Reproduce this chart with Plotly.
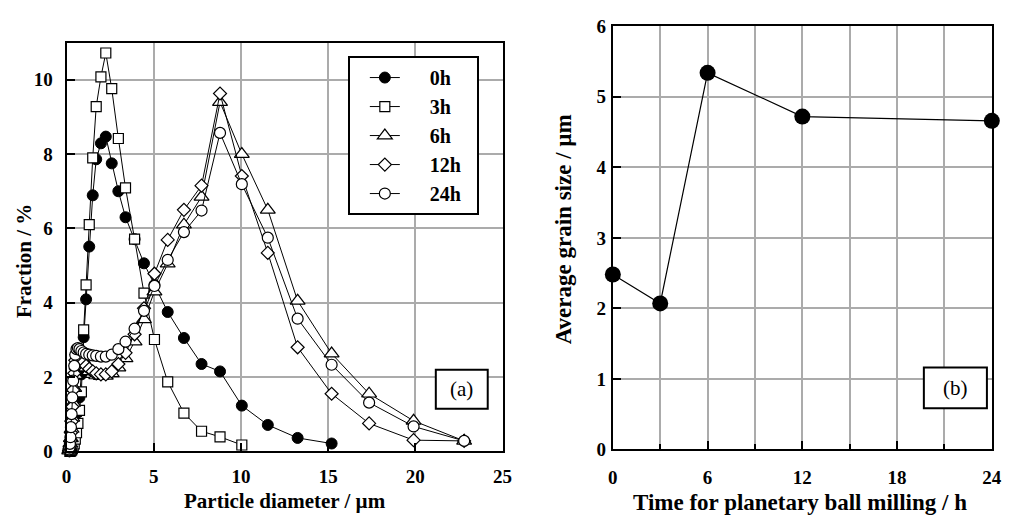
import plotly.graph_objects as go

FONT = "Liberation Serif"
W, H = 1011, 517

# ---------------- Panel (a): particle size distribution ----------------
diam_0h = [0.17, 0.19, 0.22, 0.25, 0.29, 0.33, 0.38, 0.44, 0.50, 0.57, 0.65, 0.74, 0.85, 0.98,
           1.12, 1.30, 1.50, 1.70, 1.97, 2.25, 2.59, 2.97, 3.38, 3.90, 4.44, 5.04, 5.80, 6.73,
           7.74, 8.80, 10.05, 11.54, 13.25, 15.20]
frac_0h = [0.00, 0.01, 0.02, 0.04, 0.07, 0.12, 0.20, 0.32, 0.48, 0.72, 1.05, 1.45, 2.07, 3.07,
           4.09, 5.51, 6.89, 7.86, 8.29, 8.47, 7.75, 7.00, 6.30, 5.71, 5.06, 4.48, 3.75, 3.05,
           2.35, 2.15, 1.23, 0.71, 0.36, 0.21]

diam_3h = [0.19, 0.22, 0.25, 0.29, 0.33, 0.38, 0.44, 0.50, 0.57, 0.65, 0.74, 0.85, 0.98, 1.12,
           1.30, 1.50, 1.70, 1.97, 2.25, 2.59, 2.97, 3.38, 3.90, 4.44, 5.04, 5.80, 6.73, 7.74,
           8.80, 10.05]
frac_3h = [0.00, 0.01, 0.02, 0.04, 0.07, 0.12, 0.20, 0.33, 0.50, 0.75, 1.10, 1.60, 3.27, 4.48,
           6.10, 7.90, 9.28, 10.08, 10.72, 9.76, 8.42, 7.09, 5.71, 4.26, 3.01, 1.87, 1.03, 0.54,
           0.39, 0.17]

diam_6h = [0.15, 0.17, 0.19, 0.22, 0.25, 0.29, 0.33, 0.38, 0.44, 0.50, 0.57, 0.65, 0.74, 0.85,
           0.98, 1.12, 1.30, 1.50, 1.70, 1.97, 2.25, 2.59, 2.97, 3.38, 3.90, 4.44, 5.04, 5.80,
           6.73, 7.74, 8.80, 10.05, 11.54, 13.25, 15.20, 17.35, 19.90, 22.80]
frac_6h = [0.02, 0.05, 0.10, 0.20, 0.35, 0.60, 0.90, 1.30, 1.70, 2.05, 2.30, 2.45, 2.50, 2.45,
           2.35, 2.25, 2.15, 2.08, 2.04, 2.02, 2.03, 2.10, 2.25, 2.50, 2.95, 3.55, 4.30, 5.05,
           6.10, 6.85, 9.40, 8.00, 6.50, 4.05, 2.63, 1.55, 0.82, 0.28]

diam_12h = diam_6h
frac_12h = [0.03, 0.07, 0.14, 0.28, 0.50, 0.80, 1.20, 1.65, 2.10, 2.45, 2.60, 2.62, 2.58, 2.50,
            2.40, 2.30, 2.22, 2.15, 2.10, 2.07, 2.07, 2.15, 2.35, 2.65, 3.15, 3.85, 4.78, 5.69,
            6.50, 7.15, 9.63, 7.41, 5.34, 2.80, 1.55, 0.75, 0.30, 0.28]

diam_24h = diam_6h
frac_24h = [0.05, 0.10, 0.20, 0.38, 0.65, 1.00, 1.45, 1.90, 2.30, 2.60, 2.75, 2.78, 2.75, 2.70,
            2.66, 2.62, 2.60, 2.58, 2.57, 2.55, 2.55, 2.60, 2.75, 2.95, 3.30, 3.78, 4.45, 5.15,
            5.90, 6.48, 8.57, 7.19, 5.75, 3.57, 2.33, 1.31, 0.67, 0.28]

series_names = ["0h", "3h", "6h", "12h", "24h"]

# ---------------- Panel (b): average grain size ----------------
mill_hours = [0, 3, 6, 12, 24]
grain_size = [2.48, 2.07, 5.34, 4.72, 4.66]

x_ticks_a = [0, 5, 10, 15, 20, 25]
y_ticks_a = [0, 2, 4, 6, 8, 10]
x_ticks_b = [0, 6, 12, 18, 24]
y_ticks_b = [0, 1, 2, 3, 4, 5, 6]

NBSP = "\u00a0"

fig = go.Figure()

styles = [
    dict(symbol="circle", size=11, color="black", line=dict(color="black", width=1)),
    dict(symbol="square", size=10, color="white", line=dict(color="black", width=1.2)),
    dict(symbol="triangle-up", size=13, color="white", line=dict(color="black", width=1.2)),
    dict(symbol="diamond", size=10, color="white", line=dict(color="black", width=1.2)),
    dict(symbol="circle", size=11, color="white", line=dict(color="black", width=1.2)),
]
data_a = [(diam_0h, frac_0h), (diam_3h, frac_3h), (diam_6h, frac_6h),
          (diam_12h, frac_12h), (diam_24h, frac_24h)]

for name, (xs, ys), mk in zip(series_names, data_a, styles):
    fig.add_trace(go.Scatter(
        x=xs, y=ys, mode="lines+markers", name=NBSP * 5 + name + NBSP * 2,
        line=dict(color="black", width=1), marker=mk, cliponaxis=False,
        xaxis="x", yaxis="y", legendgroup=name))

fig.add_trace(go.Scatter(
    x=mill_hours, y=grain_size, mode="lines+markers", showlegend=False,
    line=dict(color="black", width=1.2),
    marker=dict(symbol="circle", size=16, color="black"),
    cliponaxis=False, xaxis="x2", yaxis="y2"))

tickfont = dict(family=FONT, size=19, color="black", weight="bold")
common = dict(showgrid=True, gridcolor="#ababab", gridwidth=1.5, showline=True,
              linecolor="black", linewidth=2, mirror=True, zeroline=False,
              ticks="inside", ticklen=8, tickwidth=1.5, tickcolor="black",
              tickfont=tickfont)


def px(x):
    return x / W


def py(y):
    return 1 - y / H


fig.update_layout(
    width=W, height=H, margin=dict(l=0, r=0, t=0, b=0),
    paper_bgcolor="white", plot_bgcolor="white",
    font=dict(family=FONT, color="black"),
    xaxis=dict(domain=[px(62.5), px(505)], range=[0, 25], tickvals=x_ticks_a,
               anchor="y", ticklabelstandoff=7, **common),
    yaxis=dict(domain=[py(460), py(34)], range=[0, 11], tickvals=y_ticks_a,
               anchor="x", ticklabelstandoff=8, **common),
    xaxis2=dict(domain=[px(617), px(1001.7)], range=[0, 24], tickvals=x_ticks_b,
                minor=dict(dtick=3, tick0=0, showgrid=True, gridcolor="#ababab",
                           gridwidth=1.5, ticks="inside", ticklen=5, tickcolor="black"),
                anchor="y2", ticklabelstandoff=10, **common),
    yaxis2=dict(domain=[py(458), py(17)], range=[0, 6], tickvals=y_ticks_b,
                anchor="x2", ticklabelstandoff=1, **common),
    legend=dict(x=px(348), y=py(48), xanchor="left", yanchor="top",
                bordercolor="black", borderwidth=2, bgcolor="white",
                font=dict(family=FONT, size=20, color="black", weight="bold"),
                indentation=15, traceorder="normal"),
    showlegend=True,
)

title_font = dict(family=FONT, size=21, color="black", weight="bold")
title_font_b = dict(family=FONT, size=23, color="black", weight="bold")
fig.add_annotation(text="Particle diameter / µm", xref="paper", yref="paper",
                   x=px(284), y=py(512), showarrow=False, font=title_font,
                   xanchor="center", yanchor="middle")
fig.add_annotation(text="Fraction / %", xref="paper", yref="paper",
                   x=px(20), y=py(262), showarrow=False, font=title_font, textangle=-90,
                   xanchor="center", yanchor="middle")
fig.add_annotation(text="Time for planetary ball milling / h", xref="paper", yref="paper",
                   x=px(807), y=py(513), showarrow=False, font=title_font_b,
                   xanchor="center", yanchor="middle")
fig.add_annotation(text="Average grain size / µm", xref="paper", yref="paper",
                   x=px(567), y=py(229), showarrow=False, font=title_font_b, textangle=-90,
                   xanchor="center", yanchor="middle")

# panel labels
for label, (x0, y0, x1, y1) in [("(a)", (437.3, 375, 490, 415.7)),
                                ("(b)", (932.7, 372.7, 996.7, 415))]:
    fig.add_shape(type="rect", xref="paper", yref="paper",
                  x0=px(x0), x1=px(x1), y0=py(y1), y1=py(y0),
                  line=dict(color="black", width=2), fillcolor="white", layer="above")
    fig.add_annotation(text=label, xref="paper", yref="paper",
                       x=px((x0 + x1) / 2), y=py((y0 + y1) / 2), showarrow=False,
                       font=dict(family=FONT, size=21, color="black"),
                       xanchor="center", yanchor="middle")

fig.write_html("out.html")
